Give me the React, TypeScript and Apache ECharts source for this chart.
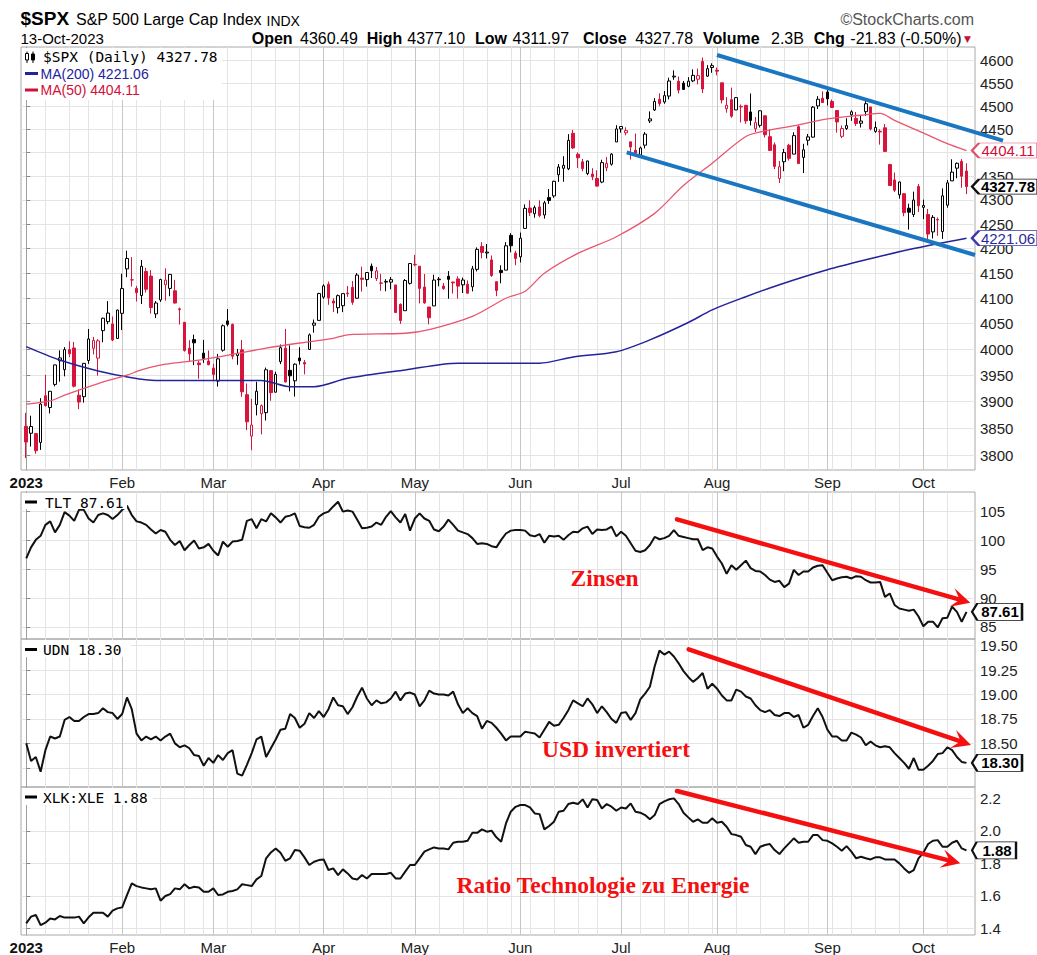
import React, { useEffect, useRef } from 'react';
import * as echarts from 'echarts';

// ---------------- DATA ----------------
const HOLIDAYS = ['2023-01-02', '2023-01-16', '2023-02-20', '2023-04-07', '2023-05-29', '2023-06-19', '2023-07-04', '2023-09-04'];
const MONTH_LABELS = ['2023', 'Feb', 'Mar', 'Apr', 'May', 'Jun', 'Jul', 'Aug', 'Sep', 'Oct'];

const spxOpen = [
  3853.29, 3840.36, 3839.74, 3823.37, 3910.82, 3888.57, 3932.35, 3977.57, 3960.60, 3999.28, 4002.25, 3911.84, 3909.04, 3978.14, 4001.74, 3982.71, 4036.08, 4053.72, 4049.27, 4020.85,
  4070.07, 4158.68, 4136.69, 4119.57, 4105.35, 4153.47, 4144.25, 4068.92, 4096.62, 4126.70, 4119.50, 4114.75, 4077.39, 4052.35, 4001.83, 4018.60, 3973.24, 3992.36, 3977.19,
  3963.34, 3938.68, 3998.02, 4055.15, 4048.26, 3987.55, 3998.66, 3912.77, 3835.12, 3894.01, 3876.74, 3878.93, 3958.69, 3917.47, 3975.89, 4002.04, 3959.21, 3939.21, 3982.93, 3974.13, 3999.53, 4046.74, 4056.18,
  4102.20, 4128.03, 4094.50, 4081.15, 4085.20, 4110.29, 4121.72, 4100.04, 4140.11, 4137.17, 4164.26, 4139.33, 4130.48, 4132.14, 4132.07, 4126.43, 4087.78, 4075.29, 4129.63,
  4166.79, 4164.10, 4122.25, 4082.61, 4084.73, 4136.98, 4124.25, 4143.74, 4132.24, 4138.54, 4126.65, 4127.95, 4122.85, 4157.68, 4204.15, 4190.78, 4176.80, 4132.96, 4155.71, 4156.16, 4226.71, 4190.74,
  4183.03, 4241.01, 4282.99, 4271.34, 4285.47, 4268.69, 4304.88, 4308.32, 4352.61, 4366.29, 4365.33, 4440.95, 4396.11, 4380.01, 4355.40, 4354.17, 4344.84, 4337.36, 4367.48, 4374.94, 4422.44,
  4450.48, 4442.04, 4422.62, 4404.54, 4394.23, 4415.55, 4467.69, 4491.50, 4514.61, 4508.86, 4521.78, 4563.87, 4554.38, 4550.16, 4543.39, 4555.19, 4558.96, 4598.26, 4565.75, 4584.82,
  4578.83, 4550.93, 4494.27, 4513.96, 4491.58, 4498.03, 4501.57, 4487.16, 4450.69, 4458.13, 4478.87, 4433.79, 4416.32, 4344.88, 4380.28, 4415.33, 4396.44, 4455.16, 4389.38, 4426.03, 4432.75, 4500.34, 4517.01,
  4530.60, 4510.06, 4490.35, 4434.55, 4451.30, 4480.98, 4473.27, 4462.65, 4487.78, 4497.98, 4445.13, 4445.41, 4452.81, 4374.36, 4341.74, 4310.62, 4312.88, 4282.63, 4269.65, 4328.18,
  4284.52, 4269.75, 4233.83, 4259.31, 4234.79, 4289.02, 4339.75, 4366.59, 4380.94, 4360.49
];
const spxHigh = [
  3878.46, 3873.16, 3839.74, 3906.19, 3950.57, 3919.83, 3970.07, 3997.76, 4003.95, 4015.39, 4014.16, 3922.94, 3972.96, 4039.31, 4023.92, 4019.55, 4061.57, 4094.21, 4063.85, 4077.16,
  4148.95, 4195.44, 4182.36, 4124.63, 4176.54, 4160.77, 4156.23, 4094.36, 4138.90, 4159.77, 4148.11, 4136.54, 4081.51, 4052.35, 4017.37, 4028.30, 3978.25, 4018.05, 3997.50,
  3971.73, 3990.84, 4048.29, 4078.49, 4050.00, 4000.41, 4017.81, 3934.05, 3905.05, 3937.29, 3894.26, 3964.46, 3958.91, 3956.62, 4009.08, 4039.49, 4007.66, 3972.74, 4003.83, 3979.20, 4030.59, 4057.85, 4110.75,
  4127.66, 4133.13, 4099.69, 4107.32, 4109.50, 4124.26, 4134.37, 4150.26, 4163.19, 4151.72, 4169.48, 4162.57, 4148.57, 4138.02, 4142.41, 4126.43, 4089.67, 4138.24, 4170.06,
  4186.92, 4164.10, 4148.30, 4082.61, 4147.02, 4142.30, 4130.35, 4154.28, 4132.80, 4143.74, 4141.25, 4135.54, 4164.67, 4202.20, 4212.91, 4209.22, 4185.68, 4132.96, 4165.74, 4212.87, 4231.10, 4195.44,
  4232.43, 4290.67, 4299.28, 4288.33, 4299.19, 4298.01, 4322.62, 4340.13, 4375.37, 4391.82, 4439.20, 4448.47, 4400.15, 4386.22, 4382.25, 4366.55, 4362.06, 4384.42, 4390.35, 4398.39, 4458.48,
  4456.46, 4454.06, 4422.62, 4440.39, 4412.60, 4443.64, 4488.34, 4517.38, 4527.76, 4532.85, 4562.30, 4578.43, 4564.74, 4555.00, 4563.41, 4580.62, 4582.47, 4607.07, 4590.16, 4594.22,
  4584.62, 4550.93, 4519.49, 4540.34, 4519.84, 4503.31, 4502.44, 4527.37, 4476.23, 4490.33, 4478.87, 4449.95, 4421.17, 4381.82, 4407.55, 4418.59, 4443.18, 4458.30, 4418.46, 4439.56, 4500.14, 4521.65, 4532.26,
  4541.25, 4514.29, 4490.35, 4457.81, 4473.53, 4490.77, 4487.11, 4479.39, 4511.99, 4497.98, 4466.36, 4449.85, 4461.03, 4375.70, 4357.40, 4338.51, 4313.01, 4292.07, 4317.27, 4333.15,
  4300.58, 4281.15, 4268.50, 4263.60, 4324.10, 4341.73, 4385.46, 4378.64, 4385.85, 4377.10
];
const spxLow = [
  3794.33, 3815.77, 3802.42, 3809.56, 3890.42, 3877.29, 3928.54, 3937.56, 3947.67, 3984.57, 3926.59, 3885.54, 3897.86, 3971.64, 3989.79, 3949.06, 4013.29, 4048.70, 4015.55, 4020.44,
  4037.20, 4141.88, 4123.36, 4093.38, 4088.39, 4111.35, 4069.67, 4060.79, 4092.67, 4095.01, 4103.98, 4089.49, 4047.95, 3995.19, 3976.90, 3969.19, 3943.08, 3973.55, 3968.98,
  3939.05, 3928.16, 3995.17, 4044.61, 3980.31, 3969.76, 3908.70, 3846.32, 3808.86, 3873.63, 3838.24, 3864.11, 3901.27, 3916.89, 3971.19, 3936.17, 3919.05, 3909.16, 3970.49, 3951.53, 3999.53, 4032.10, 4056.18,
  4098.79, 4086.87, 4072.56, 4069.84, 4072.55, 4102.61, 4086.94, 4099.40, 4113.20, 4123.18, 4140.36, 4134.49, 4114.57, 4113.86, 4117.77, 4071.38, 4049.35, 4075.29, 4127.18,
  4164.12, 4089.72, 4088.86, 4048.28, 4084.73, 4123.81, 4116.65, 4098.92, 4109.29, 4099.12, 4110.27, 4109.86, 4113.62, 4153.50, 4180.20, 4179.68, 4142.54, 4103.98, 4129.73, 4156.16, 4192.18, 4166.15,
  4171.64, 4241.01, 4266.82, 4263.09, 4263.96, 4261.07, 4291.70, 4304.37, 4337.66, 4337.85, 4362.60, 4407.44, 4367.19, 4360.14, 4351.82, 4341.34, 4328.08, 4335.00, 4360.22, 4371.97, 4422.44,
  4442.29, 4436.61, 4385.05, 4397.40, 4389.92, 4408.46, 4463.23, 4489.36, 4499.56, 4504.90, 4514.59, 4557.48, 4527.56, 4535.79, 4541.29, 4552.42, 4547.58, 4528.56, 4564.01, 4573.14,
  4567.53, 4505.75, 4485.54, 4474.55, 4491.15, 4464.39, 4461.33, 4457.92, 4443.98, 4453.44, 4432.19, 4403.55, 4364.83, 4335.31, 4360.30, 4382.77, 4396.44, 4375.55, 4356.29, 4414.98, 4431.68, 4493.59, 4507.39,
  4501.35, 4496.01, 4442.38, 4430.46, 4448.38, 4467.89, 4456.83, 4453.52, 4478.69, 4447.21, 4442.11, 4416.61, 4401.38, 4329.17, 4316.49, 4302.70, 4265.98, 4238.63, 4264.38, 4274.86,
  4260.21, 4216.45, 4220.48, 4225.91, 4219.55, 4283.79, 4339.64, 4345.34, 4325.43, 4311.97
];
const spxClose = [
  3824.14, 3852.97, 3808.10, 3895.08, 3892.09, 3919.25, 3969.61, 3983.17, 3999.09, 3990.97, 3928.86, 3898.85, 3972.61, 4019.81, 4016.95, 4016.22, 4060.43, 4070.56, 4017.77, 4076.60,
  4119.21, 4179.76, 4136.48, 4111.08, 4164.00, 4117.86, 4081.50, 4090.46, 4137.29, 4136.13, 4147.60, 4090.41, 4079.09, 3997.34, 3991.05, 4012.32, 3970.04, 3982.24, 3970.15,
  3951.39, 3981.35, 4045.64, 4048.42, 3986.37, 3992.01, 3918.32, 3861.59, 3855.76, 3919.29, 3891.93, 3960.28, 3916.64, 3951.57, 4002.87, 3936.97, 3948.72, 3970.99, 3977.53, 3971.27, 4027.81, 4050.83, 4109.31,
  4124.51, 4100.60, 4090.38, 4105.02, 4109.11, 4108.94, 4091.95, 4146.22, 4137.64, 4151.32, 4154.87, 4154.52, 4129.79, 4133.52, 4137.04, 4071.63, 4055.99, 4135.35, 4169.48,
  4167.87, 4119.58, 4090.75, 4061.22, 4136.25, 4138.12, 4119.17, 4137.64, 4130.62, 4124.08, 4136.28, 4109.90, 4158.77, 4198.05, 4191.98, 4192.63, 4145.58, 4115.24, 4151.28, 4205.45, 4205.52, 4179.83,
  4221.02, 4282.37, 4273.79, 4283.85, 4267.52, 4293.93, 4298.86, 4338.93, 4369.01, 4372.59, 4425.84, 4409.59, 4388.71, 4365.69, 4381.89, 4348.33, 4328.82, 4378.41, 4376.86, 4396.44, 4450.38,
  4455.59, 4446.82, 4411.59, 4398.95, 4409.53, 4439.26, 4472.16, 4510.04, 4505.42, 4522.79, 4554.98, 4565.72, 4534.87, 4536.34, 4554.64, 4567.46, 4566.75, 4537.41, 4582.23, 4588.96,
  4576.73, 4513.39, 4501.89, 4478.03, 4518.44, 4499.38, 4467.71, 4468.83, 4464.05, 4489.72, 4437.86, 4404.33, 4370.36, 4369.71, 4399.77, 4387.55, 4436.01, 4376.31, 4405.71, 4433.31, 4497.63, 4514.87, 4507.66,
  4515.77, 4496.83, 4465.48, 4451.14, 4457.49, 4487.46, 4461.90, 4467.44, 4505.10, 4450.32, 4453.53, 4443.95, 4402.20, 4330.00, 4320.06, 4337.44, 4273.53, 4274.51, 4299.70, 4288.05,
  4288.39, 4229.45, 4263.75, 4258.19, 4308.50, 4335.66, 4358.24, 4376.95, 4349.61, 4327.78
];
const PREV_CLOSE_2022 = 3839.5;
const VOLUME_LABEL = '2.3B';

const ma200Day = [0, 7, 15, 22, 27, 36, 49, 55, 60, 67, 79, 90, 107, 114, 123, 130, 138, 143, 150, 157, 167, 175, 185, 196];
const ma200Val = [4005, 3979, 3958, 3945, 3940, 3940, 3940, 3928, 3928, 3944, 3960, 3973, 3973, 3985, 3995, 4018, 4052, 4077, 4103, 4127, 4157, 4177, 4200, 4221.06];
const ma50Day = [0, 5, 8, 15, 21, 24, 29, 36, 43, 50, 57, 64, 67, 79, 84, 93, 100, 104, 108, 115, 123, 131, 137, 143, 150, 154, 161, 167, 174, 178, 181, 188, 192, 196];
const ma50Val = [3895, 3901, 3912, 3934, 3950, 3960, 3971, 3979, 3990, 4002, 4012, 4021, 4028, 4031, 4038, 4064, 4100, 4114, 4150, 4190, 4224, 4272, 4330, 4377, 4434, 4446, 4459, 4472, 4480, 4484, 4469, 4437, 4419, 4404.11];

const tlt = [
  96.9, 98.8, 100.1, 100.8, 102.7, 103.3, 101.4, 102.7, 104.9, 104.3,
  103.4, 105.3, 105.3, 103.8, 103.1, 104.4, 104.7, 104.4, 103.7, 104.4,
  105.3, 106.0, 104.4, 103.3, 103.1, 102.7, 101.9, 101.2, 101.8, 101.5,
  100.1, 99.2, 99.9, 98.3, 99.2, 100.0, 98.6, 98.8, 99.4, 98.2,
  97.4, 99.8, 98.9, 99.8, 99.9, 100.1, 103.4, 103.7, 102.1, 103.7,
  103.3, 104.7, 104.0, 103.1, 104.1, 104.3, 104.7, 102.5, 102.3, 102.2,
  102.7, 104.1, 104.7, 105.0, 105.9, 106.7, 105.0, 105.2, 105.0, 103.6,
  102.1, 102.2, 102.4, 103.1, 102.7, 104.1, 105.1, 104.0, 103.1, 104.6,
  101.7, 103.8, 104.7, 103.8, 103.4, 101.9, 101.6, 102.4, 103.6, 102.7,
  101.7, 101.4, 101.1, 100.4, 99.4, 99.5, 99.4, 99.0, 98.8, 100.1,
  101.2, 101.7, 101.8,
  101.8, 101.7, 100.9, 100.7, 101.1, 99.6, 100.8, 100.7, 100.8, 100.1,
  100.9, 101.5, 101.4, 102.1, 102.4, 101.1, 101.9, 101.8, 101.9, 102.4,
  100.7, 101.5, 100.8, 99.5, 98.2, 98.0, 98.3, 99.2, 100.6, 100.2,
  100.4, 100.8, 101.8, 100.8, 100.6, 100.4, 100.2, 100.2, 98.3, 98.8,
  98.6, 97.2, 96.0, 94.2, 95.7, 94.9, 95.7, 96.5, 95.2, 94.7,
  94.6, 94.0, 93.2, 92.8, 93.0, 91.9, 92.5, 94.9, 94.0, 94.6,
  94.6, 95.3, 95.6, 95.7, 94.4, 93.1, 93.4, 93.6, 93.7, 93.4,
  93.8, 93.7, 93.1, 92.7, 92.7, 92.8, 90.2, 90.8, 88.8, 88.2,
  88.0, 87.8, 88.0, 86.8, 85.1, 85.9, 85.9, 84.9, 86.5, 86.6,
  88.5, 87.6, 85.9, 87.61
];

const udn = [
  18.50, 18.32, 18.36, 18.21, 18.43, 18.57, 18.55, 18.57, 18.74, 18.77,
  18.73, 18.73, 18.77, 18.80, 18.80, 18.81, 18.86, 18.82, 18.81, 18.75,
  18.80, 18.97, 18.85, 18.60, 18.53, 18.57, 18.54, 18.57, 18.53, 18.57,
  18.60, 18.50, 18.46, 18.48, 18.45, 18.38, 18.37, 18.27, 18.35, 18.30,
  18.38, 18.33, 18.40, 18.43, 18.19, 18.17, 18.28, 18.40, 18.54, 18.57,
  18.36, 18.45, 18.54, 18.64, 18.65, 18.80, 18.76, 18.66, 18.70, 18.81,
  18.76, 18.83, 18.77, 18.85, 18.97, 18.89, 18.88, 18.80, 18.87, 18.98,
  19.07, 18.96, 18.89, 18.94, 18.91, 18.92, 18.96, 19.03, 18.94, 19.01,
  19.02, 19.00, 18.88, 18.94, 19.04, 19.01, 19.00, 19.00, 18.99, 19.03,
  18.90, 18.81, 18.86, 18.81, 18.78, 18.65, 18.73, 18.71, 18.66, 18.60,
  18.53, 18.57, 18.57,
  18.57, 18.62, 18.61, 18.60, 18.56, 18.64, 18.72, 18.68, 18.69, 18.76,
  18.84, 18.94, 18.91, 18.88, 18.96, 18.90, 18.81, 18.88, 18.82, 18.75,
  18.71, 18.81, 18.82, 18.74, 18.81, 18.95, 19.01, 19.08, 19.29, 19.45,
  19.41, 19.44, 19.39, 19.32, 19.24, 19.18, 19.13, 19.17, 19.22, 19.06,
  19.11, 19.06, 18.99, 18.94, 18.94, 19.05, 19.03, 18.98, 18.96, 18.89,
  18.84, 18.82, 18.84, 18.79, 18.78, 18.81, 18.81, 18.77, 18.79, 18.66,
  18.69, 18.78, 18.86, 18.77, 18.64, 18.57, 18.57, 18.53, 18.53, 18.61,
  18.59, 18.56, 18.48, 18.52, 18.48, 18.46, 18.47, 18.46,
  18.40, 18.35, 18.30, 18.24, 18.35, 18.23, 18.23, 18.27, 18.32, 18.39, 18.40, 18.46, 18.43, 18.36, 18.31, 18.30
];

const xlkXle = [
  1.431, 1.472, 1.482, 1.420, 1.435, 1.461, 1.455, 1.476, 1.466, 1.466,
  1.466, 1.472, 1.431, 1.468, 1.496, 1.496, 1.496, 1.472, 1.509, 1.523,
  1.529, 1.605, 1.677, 1.660, 1.652, 1.646, 1.640, 1.646, 1.570, 1.599,
  1.611, 1.646, 1.640, 1.671, 1.646, 1.656, 1.652, 1.625, 1.625, 1.646,
  1.605, 1.609, 1.625, 1.630, 1.640, 1.671, 1.666, 1.660, 1.701, 1.722,
  1.831, 1.867, 1.892, 1.865, 1.816, 1.831, 1.882, 1.878, 1.837, 1.790,
  1.810, 1.820, 1.824, 1.759, 1.769, 1.728, 1.763, 1.738, 1.707, 1.701,
  1.728, 1.707, 1.734, 1.734, 1.734, 1.734, 1.742, 1.707, 1.707, 1.749,
  1.790, 1.790, 1.831, 1.872, 1.886, 1.898, 1.892, 1.892, 1.886, 1.927,
  1.933, 1.933, 1.939, 1.988, 1.988, 2.009, 1.995, 2.001, 1.960, 1.933,
  2.046, 2.118, 2.148, 2.159,
  2.159, 2.144, 2.107, 2.103, 2.009, 2.030, 2.056, 2.118, 2.124, 2.165,
  2.173, 2.165, 2.194, 2.144, 2.194, 2.190, 2.138, 2.165, 2.149, 2.124,
  2.144, 2.138, 2.169, 2.118, 2.112, 2.097, 2.071, 2.097, 2.165, 2.181,
  2.194, 2.200, 2.165, 2.112, 2.083, 2.056, 2.071, 2.050, 2.050, 2.077,
  2.050, 2.056, 2.025, 1.980, 1.974, 1.964, 1.913, 1.902, 1.857, 1.902,
  1.913, 1.919, 1.882, 1.857, 1.892, 1.923, 1.954, 1.927, 1.933, 1.933,
  1.974, 1.974, 1.943, 1.939, 1.923, 1.902, 1.878, 1.906, 1.872, 1.831,
  1.841, 1.831, 1.824, 1.837, 1.837, 1.824, 1.824, 1.824, 1.800, 1.769,
  1.742, 1.759, 1.831, 1.865, 1.919, 1.939, 1.943, 1.902, 1.902, 1.927,
  1.939, 1.892, 1.88
];

const mainTickValues = [3800, 3850, 3900, 3950, 4000, 4050, 4100, 4150, 4200, 4250, 4300, 4350, 4400, 4450, 4500, 4550, 4600];
const mainLabelValues = [3800, 3850, 3900, 3950, 4000, 4050, 4100, 4150, 4200, 4250, 4300, 4350, 4450, 4500, 4550, 4600];
const tltTicks = [85, 90, 95, 100, 105];
const udnTicks = [18.25, 18.5, 18.75, 19.0, 19.25, 19.5];
const udnLabels = [18.5, 18.75, 19.0, 19.25, 19.5];
const xlkTicks = [1.4, 1.6, 1.8, 2.0, 2.2];

// ---------------- HELPERS ----------------
function buildDays() {
  const days: any[] = [];
  const d = new Date(Date.UTC(2023, 0, 1));
  const end = Date.UTC(2023, 9, 13);
  while (d.getTime() <= end) {
    const dow = d.getUTCDay();
    const iso = d.toISOString().slice(0, 10);
    if (dow !== 0 && dow !== 6 && HOLIDAYS.indexOf(iso) < 0) {
      days.push({ m: d.getUTCMonth(), wk: Math.floor((d.getTime() / 86400000 + 3) / 7) });
    }
    d.setUTCDate(d.getUTCDate() + 1);
  }
  return days;
}

const RED = '#d7143c';
const BLACK = '#000000';
const SANS = '"Liberation Sans", Arial, sans-serif';
const MONO = '"DejaVu Sans Mono", monospace';
const SERIF = '"Liberation Serif", "Times New Roman", serif';
const ANNOT_RED = '#f41010';
const ANNOT_BLUE = '#1b76c2';

function txt(x: number, y: number, text: string, font: string, fill = '#000', align = 'left', z = 100) {
  return {
    type: 'text', x, y, z, silent: true,
    style: { text, font, fill, align, verticalAlign: 'middle', textAlign: align, textVerticalAlign: 'middle' }
  };
}

function arrow(x1: number, y1: number, x2: number, y2: number) {
  const a = Math.atan2(y2 - y1, x2 - x1);
  const c = Math.cos(a), s = Math.sin(a);
  const L = 19, W = 9.5, N = 11;
  const p = (d: number, w: number) => [x2 - c * d - s * w, y2 - s * d + c * w];
  const base = p(N, 0);
  return [
    { type: 'line', z: 100, silent: true, shape: { x1, y1, x2: base[0], y2: base[1] }, style: { stroke: ANNOT_RED, lineWidth: 4.5, lineCap: 'round' } },
    { type: 'polygon', z: 100, silent: true, shape: { points: [[x2, y2], p(L, W), base, p(L, -W)] }, style: { fill: ANNOT_RED } }
  ];
}

export default function App() {
  const ref = useRef<HTMLDivElement>(null);

  useEffect(() => {
    document.body.style.margin = '0';
    if (!ref.current) return;
    const chart = echarts.init(ref.current, null, { renderer: 'svg' });

    const days = buildDays();
    const monthStarts: number[] = [];
    const weekStarts: number[] = [];
    days.forEach((d, i) => {
      if (i === 0 || d.m !== days[i - 1].m) monthStarts.push(i);
      if (i === 0 || d.wk !== days[i - 1].wk) weekStarts.push(i);
    });

    const n = spxClose.length;
    const last = n - 1;
    const X_MIN = -1.09, X_MAX = 197.77;

    const candles = spxClose.map((c, i) => {
      const o = spxOpen[i];
      const prev = i === 0 ? PREV_CLOSE_2022 : spxClose[i - 1];
      const col = c < prev ? RED : BLACK;
      const fill = c >= o ? '#ffffff' : col;
      return {
        value: [i, Math.log(o), Math.log(c), Math.log(spxLow[i]), Math.log(spxHigh[i])],
        itemStyle: { color: fill, color0: fill, borderColor: col, borderColor0: col, borderWidth: 1 }
      };
    });

    const grids = [
      { top: 47, height: 423 },
      { top: 492, height: 147 },
      { top: 639, height: 148 },
      { top: 787, height: 148 }
    ].map((g) => ({ left: 21, right: 62, top: g.top, height: g.height, show: true, borderColor: '#a8a8a8', borderWidth: 1, backgroundColor: 'transparent', containLabel: false, outerBoundsMode: 'none' }));

    const xAxes: any[] = [];
    for (let g = 0; g < 4; g++) {
      xAxes.push({
        type: 'value', gridIndex: g, min: X_MIN, max: X_MAX, position: 'top',
        axisLine: { show: false }, axisTick: { show: false, customValues: weekStarts }, axisLabel: { show: false },
        splitLine: { show: true, lineStyle: { color: '#e4e4e4', width: 1 } }
      });
      xAxes.push({
        type: 'value', gridIndex: g, min: X_MIN, max: X_MAX, position: 'bottom',
        axisLine: { show: false }, axisTick: { show: false, customValues: monthStarts },
        axisLabel: {
          show: g === 0 || g === 3, customValues: monthStarts, margin: 5,
          fontSize: 15, fontFamily: SANS, color: '#222',
          formatter: (v: number) => {
            const k = monthStarts.indexOf(Math.round(v));
            if (k < 0) return '';
            return k === 0 ? '{y|' + MONTH_LABELS[0] + '}' : MONTH_LABELS[k];
          },
          rich: { y: { fontWeight: 'bold', fontSize: 15, fontFamily: SANS, color: '#111' } }
        },
        splitLine: { show: true, lineStyle: { color: '#c6c6c6', width: 1 } }
      });
    }

    const yBase = (g: number, min: number, max: number, ticks: number[], labels: number[], fmt: (v: number) => string) => ({
      type: 'value', gridIndex: g, position: 'right', min, max,
      axisLine: { show: true, lineStyle: { color: '#a0a0a0' } },
      axisTick: { show: true, customValues: ticks, length: 4, lineStyle: { color: '#888' } },
      axisLabel: { customValues: labels, formatter: fmt, margin: 5, fontSize: 15, fontFamily: SANS, color: '#222' },
      splitLine: { show: true, lineStyle: { color: '#e4e4e4', width: 1 } }
    });
    const mainTicks = mainTickValues.map((v) => Math.log(v));
    const mainLabels = mainLabelValues.map((v) => Math.log(v));
    const yAxes = [
      yBase(0, Math.log(3772.6), Math.log(4630.6), mainTicks, mainLabels, (v) => String(Math.round(Math.exp(v)))),
      yBase(1, 82.9, 108.4, tltTicks, tltTicks, (v) => String(Math.round(v))),
      yBase(2, 18.053, 19.569, udnTicks, udnLabels, (v) => v.toFixed(2)),
      yBase(3, 1.359, 2.27, xlkTicks, xlkTicks, (v) => v.toFixed(1))
    ];

    const tag = (coord: number[], text: string, w: number, h: number, border: string, color: string, bold: boolean) => ({
      silent: true,
      symbol: 'path://M0,8L7,0L66,0L66,16L7,16Z',
      symbolSize: [w, h],
      symbolOffset: [972 + w / 2 - 966.5, 0],
      itemStyle: { color: '#ffffff', borderColor: border, borderWidth: 1.5 },
      label: { show: true, position: 'inside', formatter: text, color, fontSize: 15, fontFamily: SANS, fontWeight: bold ? 'bold' : 'normal', offset: [3, 0] },
      data: [{ coord }]
    });

    const lastClose = spxClose[last];
    const ma200Last = ma200Val[ma200Val.length - 1];
    const ma50Last = ma50Val[ma50Val.length - 1];
    const lineData = (arr: number[]) => arr.map((v, i) => [i, v]);

    const series: any[] = [
      {
        type: 'candlestick', name: '$SPX', xAxisIndex: 0, yAxisIndex: 0, barWidth: 3, data: candles,
        markPoint: tag([last, Math.log(lastClose)], lastClose.toFixed(2), 66, 15, '#111', '#000', true)
      },
      {
        type: 'line', name: 'MA(200)', xAxisIndex: 0, yAxisIndex: 0, symbol: 'none', smooth: 0.3,
        lineStyle: { color: '#23239b', width: 1.5 },
        data: ma200Day.map((d, i) => [d, Math.log(ma200Val[i])]),
        markPoint: tag([last, Math.log(ma200Last)], ma200Last.toFixed(2), 66, 15, '#3a3aa8', '#2a2a9a', false),
        z: 3
      },
      {
        type: 'line', name: 'MA(50)', xAxisIndex: 0, yAxisIndex: 0, symbol: 'none', smooth: 0.3,
        lineStyle: { color: '#e8566f', width: 1.3 },
        data: ma50Day.map((d, i) => [d, Math.log(ma50Val[i])]),
        markPoint: tag([last, Math.log(ma50Last)], ma50Last.toFixed(2), 66, 15, '#df5570', '#d0103a', false),
        z: 3
      },
      {
        type: 'line', name: 'TLT', xAxisIndex: 2, yAxisIndex: 1, symbol: 'none',
        lineStyle: { color: '#111', width: 2 }, data: lineData(tlt),
        markPoint: tag([tlt.length - 1, tlt[tlt.length - 1]], tlt[tlt.length - 1].toFixed(2), 50, 17, '#111', '#000', true)
      },
      {
        type: 'line', name: 'UDN', xAxisIndex: 4, yAxisIndex: 2, symbol: 'none',
        lineStyle: { color: '#111', width: 2 }, data: lineData(udn),
        markPoint: tag([udn.length - 1, udn[udn.length - 1]], udn[udn.length - 1].toFixed(2), 50, 17, '#111', '#000', true)
      },
      {
        type: 'line', name: 'XLK:XLE', xAxisIndex: 6, yAxisIndex: 3, symbol: 'none',
        lineStyle: { color: '#111', width: 2 }, data: lineData(xlkXle),
        markPoint: tag([xlkXle.length - 1, xlkXle[xlkXle.length - 1]], xlkXle[xlkXle.length - 1].toFixed(2), 44, 17, '#111', '#000', true)
      }
    ];

    const prevClose = spxClose[last - 1];
    const chg = lastClose - prevClose;
    const pct = (chg / prevClose) * 100;
    const B16 = 'bold 16px ' + SANS;
    const R16 = '16px ' + SANS;

    const graphic: any[] = [
      txt(20.5, 18.5, '$SPX', 'bold 19px ' + SANS),
      txt(76, 19.5, 'S&P 500 Large Cap Index', '16px ' + SANS),
      txt(266.5, 20.5, 'INDX', '14px ' + SANS),
      txt(974, 19.5, '\u00A9StockCharts.com', '16px ' + SANS, '#555', 'right'),
      txt(20.5, 38.5, '13-Oct-2023', '15px ' + SANS),
      txt(251.7, 38.5, 'Open', B16),
      txt(300, 38.5, spxOpen[last].toFixed(2), R16),
      txt(366.7, 38.5, 'High', B16),
      txt(407.3, 38.5, spxHigh[last].toFixed(2), R16),
      txt(475, 38.5, 'Low', B16),
      txt(512.5, 38.5, spxLow[last].toFixed(2), R16),
      txt(583, 38.5, 'Close', B16),
      txt(635.3, 38.5, lastClose.toFixed(2), R16),
      txt(703, 38.5, 'Volume', B16),
      txt(771, 38.5, VOLUME_LABEL, R16),
      txt(813.7, 38.5, 'Chg', B16),
      txt(850.3, 38.5, chg.toFixed(2) + ' (' + pct.toFixed(2) + '%)', R16),
      txt(964, 38.5, '\u25BC', '9px "DejaVu Sans"', '#c8102e'),

      // legend boxes
      { type: 'rect', z: 90, silent: true, shape: { x: 22, y: 48, width: 200, height: 52 }, style: { fill: '#fff' } },
      { type: 'rect', z: 90, silent: true, shape: { x: 22, y: 493, width: 105, height: 16 }, style: { fill: '#fff' } },
      { type: 'rect', z: 90, silent: true, shape: { x: 22, y: 640, width: 109, height: 17 }, style: { fill: '#fff' } },
      { type: 'rect', z: 90, silent: true, shape: { x: 22, y: 788, width: 131, height: 17 }, style: { fill: '#fff' } },

      // candle icon
      { type: 'line', z: 100, silent: true, shape: { x1: 27, y1: 51.5, x2: 27, y2: 63 }, style: { stroke: '#000', lineWidth: 1 } },
      { type: 'rect', z: 101, silent: true, shape: { x: 25.5, y: 53.5, width: 3, height: 6.5 }, style: { fill: '#fff', stroke: '#000', lineWidth: 1 } },
      { type: 'line', z: 100, silent: true, shape: { x1: 33, y1: 51.5, x2: 33, y2: 63 }, style: { stroke: '#000', lineWidth: 1 } },
      { type: 'rect', z: 101, silent: true, shape: { x: 31.5, y: 54, width: 3, height: 6 }, style: { fill: '#000', stroke: '#000', lineWidth: 1 } },
      txt(43, 57.3, '$SPX (Daily) ' + lastClose.toFixed(2), '14.5px ' + MONO, '#000', 'left', 102),
      { type: 'rect', z: 101, silent: true, shape: { x: 25, y: 72, width: 13, height: 3 }, style: { fill: '#23239b' } },
      txt(40.5, 73.5, 'MA(200) ' + ma200Last.toFixed(2), '14px ' + SANS, '#23239b', 'left', 102),
      { type: 'rect', z: 101, silent: true, shape: { x: 25, y: 88.5, width: 13, height: 3 }, style: { fill: '#d0103a' } },
      txt(40.5, 90, 'MA(50) ' + ma50Last.toFixed(2), '14px ' + SANS, '#d0103a', 'left', 102),

      { type: 'rect', z: 101, silent: true, shape: { x: 25, y: 500.5, width: 12, height: 3 }, style: { fill: '#000' } },
      txt(45, 502.5, 'TLT ' + tlt[tlt.length - 1].toFixed(2), '14.5px ' + MONO, '#000', 'left', 102),
      { type: 'rect', z: 101, silent: true, shape: { x: 25, y: 648, width: 12, height: 3 }, style: { fill: '#000' } },
      txt(43, 650, 'UDN ' + udn[udn.length - 1].toFixed(2), '14.5px ' + MONO, '#000', 'left', 102),
      { type: 'rect', z: 101, silent: true, shape: { x: 25, y: 795.5, width: 12, height: 3 }, style: { fill: '#000' } },
      txt(43, 797.5, 'XLK:XLE ' + xlkXle[xlkXle.length - 1].toFixed(2), '14.5px ' + MONO, '#000', 'left', 102),

      // channel lines
      { type: 'line', z: 100, silent: true, shape: { x1: 717, y1: 55, x2: 1003, y2: 140.7 }, style: { stroke: ANNOT_BLUE, lineWidth: 4 } },
      { type: 'line', z: 100, silent: true, shape: { x1: 626.7, y1: 152.3, x2: 975, y2: 255 }, style: { stroke: ANNOT_BLUE, lineWidth: 4 } },

      // red arrows
      ...arrow(677, 519.3, 970.3, 602.7),
      ...arrow(688.7, 649.3, 971, 745),
      ...arrow(677, 791, 960.3, 863.3),

      txt(604.5, 578, 'Zinsen', 'bold 23.5px ' + SERIF, ANNOT_RED, 'center'),
      txt(616, 749, 'USD invertiert', 'bold 23.5px ' + SERIF, ANNOT_RED, 'center'),
      txt(603, 885, 'Ratio Technologie zu Energie', 'bold 23.5px ' + SERIF, ANNOT_RED, 'center')
    ];

    chart.setOption({
      animation: false,
      backgroundColor: '#ffffff',
      grid: grids,
      xAxis: xAxes,
      yAxis: yAxes,
      series,
      graphic
    });

    return () => chart.dispose();
  }, []);

  return <div ref={ref} style={{ width: 1037, height: 955 }} />;
}
